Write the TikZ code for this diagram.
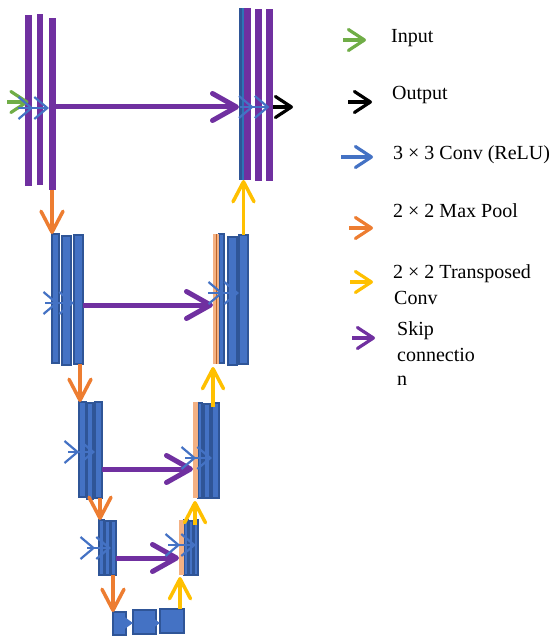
\documentclass[tikz,border=0pt]{standalone}
\usepackage{fontspec}
\setmainfont{Liberation Serif}
\usetikzlibrary{arrows.meta,fit}
\definecolor{upurple}{HTML}{7030A0}
\definecolor{ublue}{HTML}{4472C4}
\definecolor{udblue}{HTML}{2F5597}
\definecolor{uorange}{HTML}{ED7D31}
\definecolor{uyellow}{HTML}{FFC000}
\definecolor{ugreen}{HTML}{70AD47}
\definecolor{usalmon}{HTML}{F4B183}
\definecolor{ustripe}{HTML}{2E75B6}
\begin{document}
\begin{tikzpicture}[x=1pt,y=-1pt,
  pbar/.style={fill=upurple, draw=none, inner sep=0pt, outer sep=0pt},
  bbar/.style={fill=ublue, draw=udblue, line width=1.5pt, inner sep=0pt, outer sep=0pt},
  sbar/.style={fill=usalmon, draw=none, inner sep=0pt, outer sep=0pt},
  skiparrow/.style={draw=upurple, line width=5pt, -{Straight Barb[length=24pt,width=27pt,round]}},
  poolarrow/.style={draw=uorange, line width=3.5pt, -{Straight Barb[length=21pt,width=22pt,round]}},
  uparrow/.style={draw=uyellow, line width=3.5pt, -{Straight Barb[length=20pt,width=21pt,round]}},
  convarrow/.style={draw=ublue, line width=2.2pt, -{Straight Barb[length=13pt,width=22pt,sep=0pt] Straight Barb[length=13pt,width=22pt]}},
  neckarrow/.style={draw=ublue, line width=1.5pt, -{Triangle[length=8pt,width=11pt]}},
  legarrow/.style={line width=3.2pt, -{Straight Barb[length=16pt,width=21pt,round]}},
  legtext/.style={anchor=base west, inner sep=0pt, font=\fontsize{20}{24}\selectfont},
]
\useasboundingbox (0,0) rectangle (557,636);

% ---------- level 1 ----------
\node[pbar, fit={(25,15) (32,186)}] (L1a) {};
\node[pbar, fit={(37,14) (43,185)}] (L1b) {};
\node[pbar, fit={(49,18) (56,190)}] (L1c) {};
\node[pbar, fit={(239,8) (251,180)}] (R1a) {};
\fill[udblue] (239,8) rectangle (241.5,180);
\fill[ustripe] (242,8) rectangle (243.5,180);
\node[pbar, fit={(255,9) (262,181)}] (R1b) {};
\node[pbar, fit={(266,9) (273,181)}] (R1c) {};

% ---------- level 2 ----------
\node[bbar, fit={(52,234) (59,363)}] (L2a) {};
\node[bbar, fit={(62,236) (71,365)}] (L2b) {};
\node[bbar, fit={(74,235) (83,364)}] (L2c) {};
\node[bbar, fit={(219,234) (224,363)}] (R2a) {};
\node[bbar, fit={(228,237) (237,365)}] (R2b) {};
\node[bbar, fit={(239,235) (248,364)}] (R2c) {};
\node[sbar, fit={(213,234) (219,364)}] (R2o) {};
\draw[uorange!80!black, line width=0.5pt] (R2o.north) -- (R2o.south);

% ---------- level 3 ----------
\node[bbar, fit={(79,402) (86,497)}] (L3a) {};
\node[bbar, fit={(87,403) (93,499)}] (L3b) {};
\node[bbar, fit={(95,402) (102,498)}] (L3c) {};
\node[bbar, fit={(198,403) (202,498)}] (R3a) {};
\node[bbar, fit={(204,404) (210,498)}] (R3b) {};
\node[bbar, fit={(212,403) (219,498)}] (R3c) {};
\node[sbar, fit={(193,402) (198,498)}] (R3o) {};

% ---------- level 4 ----------
\node[bbar, fit={(99,520) (104,575)}] (L4a) {};
\node[bbar, fit={(105,521) (110,575)}] (L4b) {};
\node[bbar, fit={(111,521) (116,575)}] (L4c) {};
\node[bbar, fit={(184,520) (188,575)}] (R4a) {};
\node[bbar, fit={(189,521) (193,575)}] (R4b) {};
\node[bbar, fit={(194,520) (198,575)}] (R4c) {};
\node[sbar, fit={(179,520) (183.5,575)}] (R4o) {};

% ---------- bottleneck ----------
\node[bbar, fit={(113,612) (126,635)}] (B1) {};
\node[bbar, fit={(133,610) (156,634)}] (B2) {};
\node[bbar, fit={(160,609) (184,633)}] (B3) {};

% ---------- reference heights ----------
\coordinate (k1) at (0,107);
\coordinate (c1) at (0,108);
\coordinate (k2) at (0,305);
\coordinate (c2l) at (0,303);
\coordinate (c2r) at (0,293);
\coordinate (k3) at (0,469);
\coordinate (c3l) at (0,452);
\coordinate (c3r) at (0,458);
\coordinate (k4) at (0,558);
\coordinate (c4l) at (0,548);
\coordinate (c4r) at (0,545);
\coordinate (k5) at (0,623);

% ---------- skip connections ----------
\draw[skiparrow] (L1c.east |- k1) -- (R1a.west |- k1);
\draw[skiparrow] (L2c.east |- k2) -- (R2o.west |- k2);
\draw[skiparrow] (L3c.east |- k3) -- (R3o.west |- k3);
\draw[skiparrow] (L4c.east |- k4) -- (R4o.west |- k4);

% ---------- input / output ----------
\coordinate (inS) at (7,102);
\coordinate (outE) at (293,107);
\draw[legarrow, ugreen] (inS) -- (L1a.center |- inS);
\draw[legarrow, black] (R1c.east |- k1) -- (outE);

% ---------- 3x3 conv chevrons ----------
\coordinate (cv1l) at (18,108);
\coordinate (cv1r) at (240,107);
\coordinate (cv2l) at (45,303);
\coordinate (cv2r) at (208,293);
\coordinate (cv3l) at (68,452);
\coordinate (cv3r) at (185,458);
\coordinate (cv4l) at (87,548);
\coordinate (cv4r) at (168,545);
\draw[convarrow] (cv1l) -- (L1c.west |- c1);
\draw[convarrow] (cv1r) -- (R1c.center |- k1);
\draw[convarrow] (cv2l) -- (L2c.west |- c2l);
\draw[convarrow] (cv2r) -- (R2c.west |- c2r);
\draw[convarrow] (cv3l) -- (L3c.west |- c3l);
\draw[convarrow] (cv3r) -- (R3c.west |- c3r);
\draw[convarrow] (cv4l) -- (L4c.west |- c4l);
\draw[convarrow] (cv4r) -- (R4c.center |- c4r);
\draw[neckarrow] (B1.east |- k5) -- (B2.west |- k5);
\draw[neckarrow] (B2.east |- k5) -- (B3.west |- k5);

% ---------- max pool ----------
\coordinate (p1) at (52,0);
\coordinate (p2) at (80,0);
\coordinate (p3) at (100,0);
\coordinate (p4) at (113,0);
\draw[poolarrow] (p1 |- L1c.south) -- (p1 |- L2a.north);
\draw[poolarrow] (p2 |- L2c.south) -- (p2 |- L3a.north);
\draw[poolarrow] (p3 |- L3c.south) -- (p3 |- L4a.north);
\draw[poolarrow] (p4 |- L4c.south) -- (p4 |- B1.north);

% ---------- transposed conv ----------
\coordinate (u1) at (243.5,0);
\coordinate (u2) at (213,0);
\coordinate (u3) at (195,0);
\coordinate (u4) at (180,0);
\draw[uparrow] (u1 |- R2c.north) -- (u1 |- R1a.south);
\draw[uparrow] ([yshift=-4pt]u2 |- R3c.north) -- ([yshift=-3pt]u2 |- R2o.south);
\draw[uparrow] ([yshift=-5pt]u3 |- R4c.north) -- ([yshift=-3pt]u3 |- R3c.south);
\draw[uparrow] (u4 |- B3.north) -- ([yshift=-2pt]u4 |- R4o.south);

% ---------- legend ----------
\coordinate (g1a) at (343,40);  \coordinate (g1b) at (366,40);
\coordinate (g2a) at (348,102); \coordinate (g2b) at (372,102);
\coordinate (g3a) at (341,157); \coordinate (g3b) at (373,157);
\coordinate (g4a) at (349,228); \coordinate (g4b) at (373,228);
\coordinate (g5a) at (350,282); \coordinate (g5b) at (373,282);
\coordinate (g6a) at (352,338); \coordinate (g6b) at (375,338);
\draw[legarrow, ugreen] (g1a) -- (g1b);
\draw[legarrow, black] (g2a) -- (g2b);
\draw[legarrow, ublue] (g3a) -- (g3b);
\draw[legarrow, uorange] (g4a) -- (g4b);
\draw[legarrow, uyellow] (g5a) -- (g5b);
\draw[legarrow, upurple] (g6a) -- (g6b);

\node[legtext] (tin) at (391,43) {Input};
\node[legtext] (tout) at (392,100) {Output};
\node[legtext] (tconv) at (393,160) {3 × 3 Conv (ReLU)};
\node[legtext] (tpool) at (393,218) {2 × 2 Max Pool};
\node[legtext] (tup1) at (393,278) {2 × 2 Transposed};
\node[legtext] (tup2) at (394,304) {Conv};
\node[legtext] (tsk1) at (397,335) {Skip};
\node[legtext] (tsk2) at (397,361) {connectio};
\node[legtext] (tsk3) at (397,385) {n};
\end{tikzpicture}
\end{document}
